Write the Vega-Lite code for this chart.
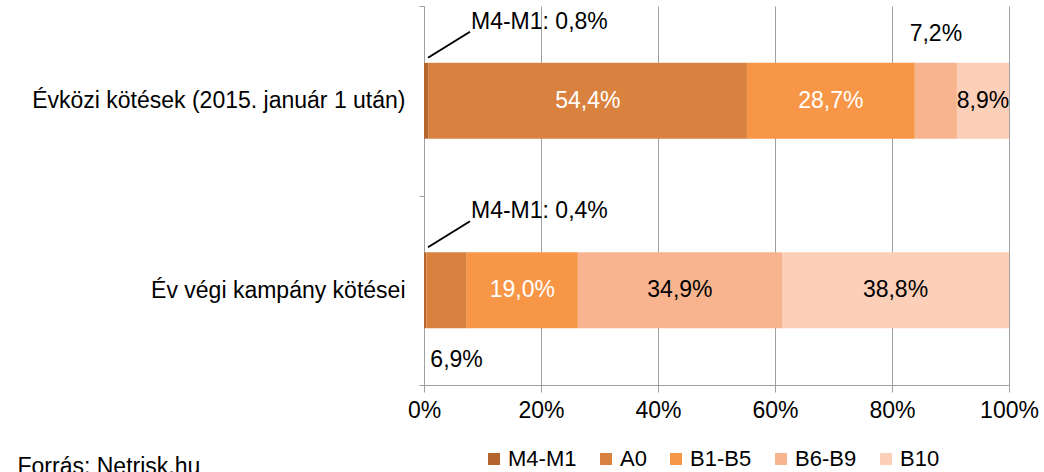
{
  "$schema": "https://vega.github.io/schema/vega-lite/v6.json",
  "width": 585,
  "height": 379,
  "autosize": {"type": "none"},
  "padding": {"left": 424, "top": 6, "right": 35, "bottom": 87},
  "background": "white",
  "config": {
    "font": "Liberation Sans",
    "view": {"stroke": null},
    "axis": {"labelFont": "Liberation Sans", "labelColor": "#000000", "labelFontSize": 23, "domainColor": "#a0a0a0", "tickColor": "#a0a0a0", "gridColor": "#a0a0a0"}
  },
  "data": {
    "values": [
      {"cat": "Évközi kötések (2015. január 1 után)", "series": "M4-M1", "order": 1, "value": 0.8},
      {"cat": "Évközi kötések (2015. január 1 után)", "series": "A0", "order": 2, "value": 54.4},
      {"cat": "Évközi kötések (2015. január 1 után)", "series": "B1-B5", "order": 3, "value": 28.7},
      {"cat": "Évközi kötések (2015. január 1 után)", "series": "B6-B9", "order": 4, "value": 7.2},
      {"cat": "Évközi kötések (2015. január 1 után)", "series": "B10", "order": 5, "value": 8.9},
      {"cat": "Év végi kampány kötései", "series": "M4-M1", "order": 1, "value": 0.4},
      {"cat": "Év végi kampány kötései", "series": "A0", "order": 2, "value": 6.9},
      {"cat": "Év végi kampány kötései", "series": "B1-B5", "order": 3, "value": 19.0},
      {"cat": "Év végi kampány kötései", "series": "B6-B9", "order": 4, "value": 34.9},
      {"cat": "Év végi kampány kötései", "series": "B10", "order": 5, "value": 38.8}
    ]
  },
  "transform": [
    {"stack": "value", "groupby": ["cat"], "sort": [{"field": "order", "order": "ascending"}], "as": ["v0", "v1"]},
    {"calculate": "(datum.v0 + datum.v1) / 2", "as": "mid"},
    {"calculate": "replace(format(datum.value, '.1f'), '.', ',') + '%'", "as": "lbl"},
    {"calculate": "datum.series + ': ' + datum.lbl", "as": "callout"}
  ],
  "encoding": {
    "y": {
      "field": "cat",
      "type": "nominal",
      "sort": ["Évközi kötések (2015. január 1 után)", "Év végi kampány kötései"],
      "scale": {"paddingInner": 0, "paddingOuter": 0},
      "axis": {"title": null, "tickBand": "extent", "tickSize": 5, "labelPadding": 14, "labelLimit": 0, "domainColor": "#a0a0a0"}
    }
  },
  "layer": [
    {
      "mark": {"type": "bar", "height": {"band": 0.4}},
      "encoding": {
        "x": {
          "field": "v0",
          "type": "quantitative",
          "scale": {"domain": [0, 100], "nice": false},
          "axis": {
            "title": "Forrás: Netrisk.hu",
            "titleX": -407,
            "titleY": 88,
            "titleAlign": "left",
            "titleAnchor": null,
            "titleBaseline": "alphabetic",
            "titleFontSize": 23,
            "titleFontWeight": "normal",
            "titleFont": "Liberation Sans",
            "titleColor": "#000000",
            "values": [0, 20, 40, 60, 80, 100],
            "labelExpr": "datum.value + '%'",
            "grid": true,
            "tickSize": 7,
            "labelPadding": 7,
            "labelFlush": false
          }
        },
        "x2": {"field": "v1"},
        "color": {
          "field": "series",
          "type": "nominal",
          "scale": {"domain": ["M4-M1", "A0", "B1-B5", "B6-B9", "B10"], "range": ["#b5662e", "#d9823f", "#f79646", "#f8b48e", "#fbcfb8"]},
          "legend": {
            "title": null,
            "orient": "none",
            "legendX": 59,
            "legendY": 442,
            "direction": "horizontal",
            "symbolType": "square",
            "symbolSize": 144,
            "symbolStrokeWidth": 0,
            "labelFontSize": 22,
            "labelFont": "Liberation Sans",
            "labelColor": "#000000",
            "labelOffset": 3,
            "columnPadding": 18
          }
        }
      }
    },
    {
      "transform": [
        {"filter": "!(datum.series == 'M4-M1' || (datum.order == 4 && datum.cat == 'Évközi kötések (2015. január 1 után)') || (datum.order == 2 && datum.cat == 'Év végi kampány kötései'))"}
      ],
      "mark": {"type": "text", "fontSize": 23, "font": "Liberation Sans", "baseline": "middle", "align": "center"},
      "encoding": {
        "x": {"field": "mid", "type": "quantitative"},
        "text": {"field": "lbl"},
        "color": {"condition": {"test": "datum.series == 'A0' || datum.series == 'B1-B5'", "value": "#ffffff"}, "value": "#000000"}
      }
    },
    {
      "transform": [{"filter": "datum.order == 4 && datum.cat == 'Évközi kötések (2015. január 1 után)'"}],
      "mark": {"type": "text", "fontSize": 23, "font": "Liberation Sans", "baseline": "middle", "align": "center", "dy": -67, "color": "#000000"},
      "encoding": {
        "x": {"field": "mid", "type": "quantitative"},
        "text": {"field": "lbl"}
      }
    },
    {
      "transform": [{"filter": "datum.order == 2 && datum.cat == 'Év végi kampány kötései'"}],
      "mark": {"type": "text", "fontSize": 23, "font": "Liberation Sans", "baseline": "middle", "align": "left", "dx": 4, "dy": 70, "color": "#000000"},
      "encoding": {
        "x": {"field": "v0", "type": "quantitative"},
        "text": {"field": "lbl"}
      }
    },
    {
      "transform": [{"filter": "datum.series == 'M4-M1'"}],
      "mark": {"type": "text", "fontSize": 23, "font": "Liberation Sans", "baseline": "middle", "align": "left", "dx": 47, "dy": -79, "color": "#000000"},
      "encoding": {
        "x": {"field": "v0", "type": "quantitative"},
        "text": {"field": "callout"}
      }
    },
    {
      "transform": [{"filter": "datum.series == 'M4-M1'"}],
      "mark": {"type": "rule", "color": "#000000", "strokeWidth": 2, "xOffset": 4, "x2Offset": 46, "yOffset": -43, "y2Offset": -69},
      "encoding": {
        "x": {"field": "v0", "type": "quantitative"},
        "x2": {"field": "v0"},
        "y2": {"field": "cat"}
      }
    }
  ]
}
